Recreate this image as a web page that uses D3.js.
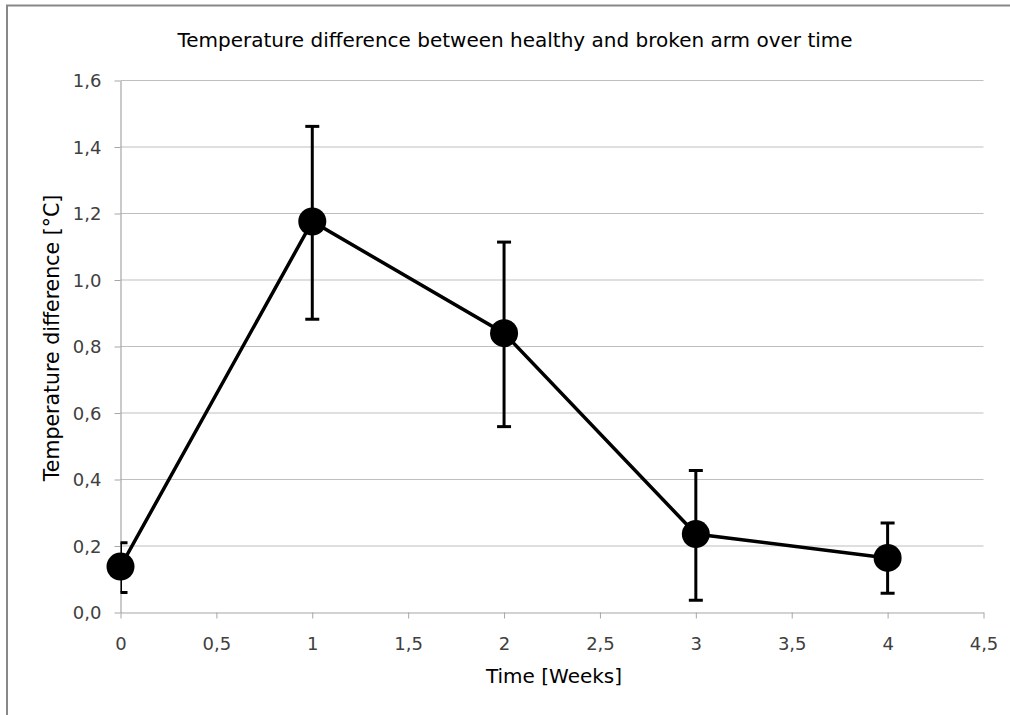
<!DOCTYPE html>
<html><head><meta charset="utf-8">
<script src="https://cdn.jsdelivr.net/npm/d3@7"></script>
<style>html,body{margin:0;background:#fff;overflow:hidden}svg{display:block}text{font-family:"DejaVu Sans",sans-serif}</style>
</head><body>
<svg id="c" width="1010" height="715"></svg>
<script>
const weeks = [0, 1, 2, 3, 4];
const means = [0.138, 1.176, 0.840, 0.236, 0.164];
const errLow = [0.060, 0.882, 0.559, 0.037, 0.058];
const errHigh = [0.210, 1.462, 1.114, 0.427, 0.269];
const xTicks = [0, 0.5, 1, 1.5, 2, 2.5, 3, 3.5, 4, 4.5];
const yTicks = [0, 0.2, 0.4, 0.6, 0.8, 1.0, 1.2, 1.4, 1.6];
const title = "Temperature difference between healthy and broken arm over time";
const xTitle = "Time [Weeks]";
const yTitle = "Temperature difference [°C]";

const svg = d3.select("#c");
const L = 120.5, R = 983.5, T = 80.5, B = 612.5;
const x = d3.scaleLinear().domain([0, 4.5]).range([L, R]);
const y = d3.scaleLinear().domain([0, 1.6]).range([B, T]);
const fmt = d => d3.format(d % 1 === 0 ? "d" : ".1f")(d).replace(".", ",");
const fmtY = d => d3.format(".1f")(d).replace(".", ",");

// outer frame (top and left edges visible)
svg.append("path").attr("d", "M7,715 L7,5.5 L1010,5.5")
  .attr("fill", "none").attr("stroke", "#888").attr("stroke-width", 2);

// gridlines
svg.append("g").selectAll("line").data(yTicks.filter(d => d > 0)).join("line")
  .attr("x1", L).attr("x2", R).attr("y1", d => y(d)).attr("y2", d => y(d))
  .attr("stroke", "#bfbfbf").attr("stroke-width", 1);

// axes
const xAxis = svg.append("g").attr("transform", `translate(0,${B})`)
  .call(d3.axisBottom(x).tickValues(xTicks).tickFormat(fmt).tickSize(6).tickSizeOuter(0));
const yAxis = svg.append("g").attr("transform", `translate(${L},0)`)
  .call(d3.axisLeft(y).tickValues(yTicks).tickFormat(fmtY).tickSize(6).tickSizeOuter(0));
[xAxis, yAxis].forEach(a => {
  a.attr("font-family", null).attr("font-size", null);
  a.select(".domain").attr("stroke", "#a6a6a6").attr("stroke-width", 1.2);
  a.selectAll(".tick line").attr("stroke", "#a6a6a6");
  a.selectAll("text").style("font-size", "18px").attr("fill", "#404040");
});
xAxis.selectAll("text").attr("dy", "0").attr("y", 37);
yAxis.selectAll("text").attr("x", -19).attr("dy", "0.36em");

// clip
svg.append("clipPath").attr("id", "pc").append("rect")
  .attr("x", L).attr("y", 0).attr("width", R - L).attr("height", B);

const g = svg.append("g").attr("clip-path", "url(#pc)");
const pts = weeks.map((w, i) => ({w, m: means[i], lo: errLow[i], hi: errHigh[i]}));

// line
g.append("path").datum(pts)
  .attr("d", d3.line().x(d => x(d.w)).y(d => y(d.m)))
  .attr("fill", "none").attr("stroke", "#000").attr("stroke-width", 3.5);

// error bars
const eb = g.append("g").attr("stroke", "#000").attr("stroke-width", 3);
eb.selectAll(".v").data(pts).join("line")
  .attr("x1", d => x(d.w)).attr("x2", d => x(d.w))
  .attr("y1", d => y(d.lo)).attr("y2", d => y(d.hi));
eb.selectAll(".ch").data(pts).join("line")
  .attr("x1", d => x(d.w) - 7).attr("x2", d => x(d.w) + 7)
  .attr("y1", d => y(d.hi)).attr("y2", d => y(d.hi));
eb.selectAll(".cl").data(pts).join("line")
  .attr("x1", d => x(d.w) - 7).attr("x2", d => x(d.w) + 7)
  .attr("y1", d => y(d.lo)).attr("y2", d => y(d.lo));

// markers
svg.append("g").selectAll("circle").data(pts).join("circle")
  .attr("cx", d => x(d.w)).attr("cy", d => y(d.m)).attr("r", 14).attr("fill", "#000");

// titles
svg.append("text").attr("x", 515).attr("y", 47).attr("text-anchor", "middle")
  .style("font-size", "20px").attr("fill", "#000").text(title);
svg.append("text").attr("x", 554).attr("y", 683).attr("text-anchor", "middle")
  .style("font-size", "20px").attr("fill", "#000").text(xTitle);
svg.append("text").attr("transform", "translate(59,338) rotate(-90)").attr("text-anchor", "middle")
  .style("font-size", "20.5px").attr("fill", "#000").text(yTitle);
</script>
</body></html>
